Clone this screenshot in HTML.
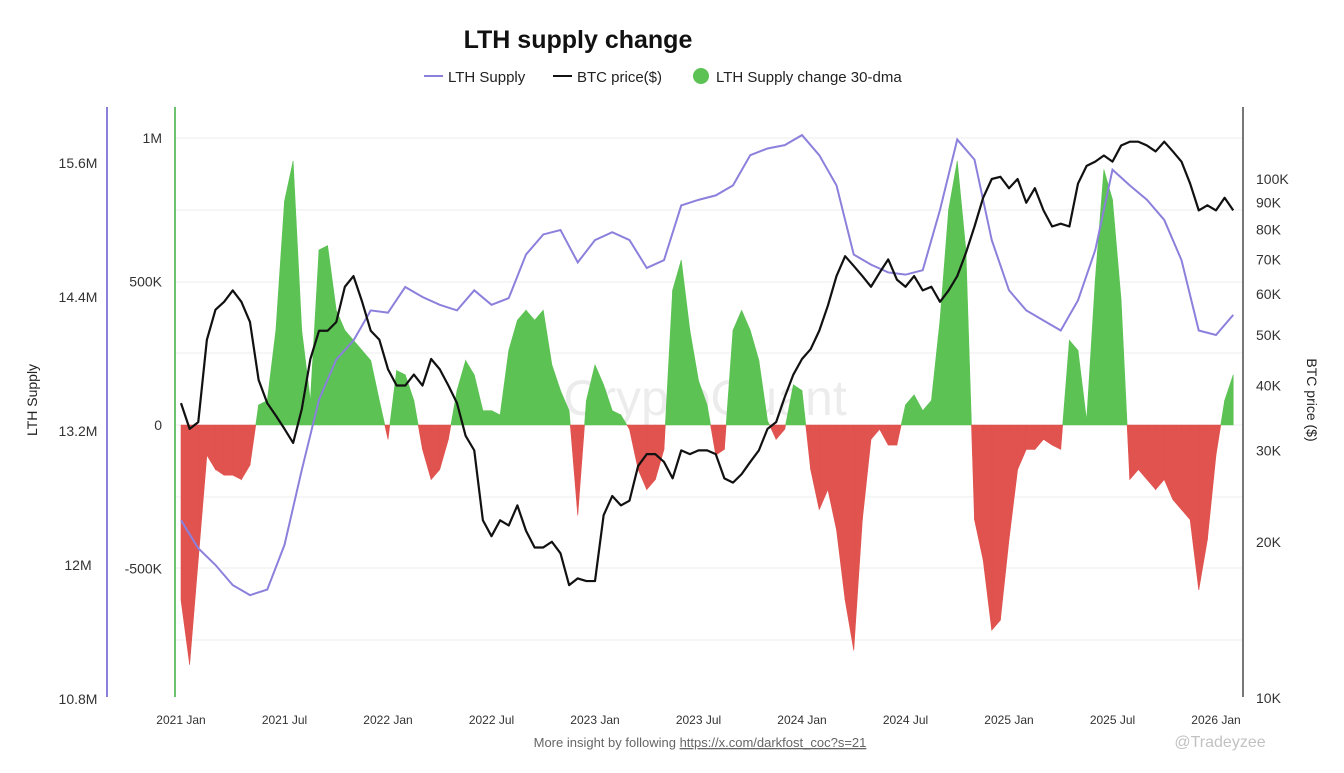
<!DOCTYPE html>
<html><head><meta charset="utf-8"><title>LTH supply change</title>
<style>
html,body{margin:0;padding:0;background:#fff;}
body{width:1344px;height:768px;overflow:hidden;font-family:"Liberation Sans",sans-serif;}
svg text{font-family:"Liberation Sans",sans-serif;}
</style></head>
<body>
<svg id="chart" width="1344" height="768" viewBox="0 0 1344 768" xmlns="http://www.w3.org/2000/svg">
  <rect width="1344" height="768" fill="#fff"/>
  <text x="578" y="48" text-anchor="middle" font-size="25" font-weight="bold" fill="#111">LTH supply change</text>
  <g font-size="15" fill="#222">
    <g><line x1="424" y1="76" x2="443" y2="76" stroke="#8b80dc" stroke-width="2"/><text x="448" y="82">LTH Supply</text></g>
    <g><line x1="553" y1="76" x2="572" y2="76" stroke="#111" stroke-width="2"/><text x="577" y="82">BTC price($)</text></g>
    <g><circle cx="701" cy="76" r="8" fill="#5cc254"/><text x="716" y="82">LTH Supply change 30-dma</text></g>
  </g>
  <g id="grid"></g>
  <text x="705" y="415" text-anchor="middle" font-size="50" fill="#000" opacity="0.07">CryptoQuant</text>
  <defs><clipPath id="plotclip"><rect x="176" y="100" width="1066" height="598"/></clipPath></defs>
  <g id="bars" clip-path="url(#plotclip)"></g>
  <g id="lines" clip-path="url(#plotclip)"></g>
  <line x1="107" y1="107" x2="107" y2="697" stroke="#8b80dc" stroke-width="2"/>
  <line x1="175" y1="107" x2="175" y2="697" stroke="#6ec46e" stroke-width="2"/>
  <line x1="1243" y1="107" x2="1243" y2="697" stroke="#777" stroke-width="2"/>
  <g id="axes" font-size="14" fill="#333"></g>
  <text transform="translate(37,400) rotate(-90)" text-anchor="middle" font-size="14" fill="#222">LTH Supply</text>
  <text transform="translate(1307,400) rotate(90)" text-anchor="middle" font-size="14" fill="#222">BTC price ($)</text>
  <text x="700" y="747" text-anchor="middle" font-size="13" fill="#666">More insight by following <tspan text-decoration="underline">https://x.com/darkfost_coc?s=21</tspan></text>
  <text x="1220" y="747" text-anchor="middle" font-size="16" fill="#999" opacity="0.6">@Tradeyzee</text>
</svg>
<script>
// Supply change 30-dma (K), semi-monthly from 2021 Jan
const changeValues = [-610,-835,-470,-105,-155,-175,-175,-190,-140,70,85,330,780,920,330,85,610,625,400,330,295,260,225,85,-50,190,175,85,-85,-190,-155,-50,120,225,175,50,50,35,260,365,400,365,400,210,120,50,-315,85,210,140,50,35,-15,-155,-225,-190,-85,470,575,330,155,70,-105,-85,330,400,330,225,15,-50,-15,140,120,-155,-295,-225,-365,-610,-785,-330,-50,-15,-70,-70,70,105,50,85,365,750,920,610,-330,-470,-715,-680,-400,-155,-85,-85,-50,-70,-85,295,260,15,505,890,785,435,-190,-155,-190,-225,-190,-260,-295,-330,-575,-400,-105,85,175];
// BTC price (K $), semi-monthly
const priceValues = [37,33,34,49,56,58,61,58,53,41,37,35,33,31,36,45,51,51,53,62,65,58,51,49,43,40,40,42,40,45,43,40,37,32,30,22,20.5,22,21.5,23.5,21,19.5,19.5,20,19,16.5,17,16.8,16.8,22.5,24.5,23.5,24,28,29.5,29.5,28.5,26.5,30,29.5,30,30,29.5,26.5,26,27,28.5,30,33,34,38,42,45,47,51,57,65,71,68,65,62,66,70,64,62,65,61,62,58,61,65,72,81,92,100,101,96,100,90,96,87,81,82,81,98,106,108,111,108,116,118,118,116,113,118,113,108,98,87,89,87,92,87];
// LTH supply (M BTC), monthly
const supplyValues = [12.40,12.15,12.00,11.82,11.73,11.78,12.18,12.85,13.48,13.84,14.01,14.28,14.26,14.49,14.40,14.33,14.28,14.46,14.33,14.39,14.78,14.96,15.00,14.71,14.91,14.98,14.91,14.66,14.73,15.22,15.27,15.31,15.40,15.67,15.73,15.76,15.85,15.67,15.40,14.78,14.69,14.62,14.60,14.64,15.18,15.81,15.63,14.91,14.46,14.28,14.19,14.10,14.37,14.82,15.54,15.40,15.27,15.09,14.73,14.10,14.06,14.24];
const xTickLabels = ["2021 Jan","2021 Jul","2022 Jan","2022 Jul","2023 Jan","2023 Jul","2024 Jan","2024 Jul","2025 Jan","2025 Jul","2026 Jan"];
const supplyTicks = [15.6,14.4,13.2,12,10.8];
const supplyTickLabels = ["15.6M","14.4M","13.2M","12M","10.8M"];
const changeTicks = [1000,500,0,-500];
const changeTickLabels = ["1M","500K","0","-500K"];
const priceTicks = [100,90,80,70,60,50,40,30,20,10];
const priceTickLabels = ["100K","90K","80K","70K","60K","50K","40K","30K","20K","10K"];

const NS="http://www.w3.org/2000/svg";
const X0=181, PX_PER_MONTH=17.25;
const xMonth = m => X0 + m*PX_PER_MONTH;
const ySupply = v => 431 - (v-13.2)/1.2*134;
const yChange = v => 425 - v/500*143.5;
const yPrice = v => 698 - Math.log10(v/10)*519;
function mk(tag, attrs, parent){const e=document.createElementNS(NS,tag);for(const k in attrs)e.setAttribute(k,attrs[k]);parent.appendChild(e);return e;}

const grid=document.getElementById('grid');
[138,210,282,353,425,497,568,640].forEach(y=>{
  const l=mk('line',{x1:176,x2:1242,y1:y,y2:y,stroke:'#eeeeee','stroke-width':1},grid);
});

// change area
const bars=document.getElementById('bars');
for(let i=0;i<changeValues.length-1;i++){
  const a=changeValues[i], b=changeValues[i+1];
  const xa=xMonth(i/2), xb=xMonth((i+1)/2);
  const segs=[];
  if((a>=0)===(b>=0)) segs.push([xa,a,xb,b]);
  else { const t=a/(a-b); const xc=xa+(xb-xa)*t; segs.push([xa,a,xc,0]); segs.push([xc,0,xb,b]); }
  segs.forEach(s=>{
    const pos=(s[1]+s[3])>=0;
    const p=mk('polygon',{points:`${s[0]},425 ${s[0]},${yChange(s[1])} ${s[2]},${yChange(s[3])} ${s[2]},425`,fill:pos?'#5cc254':'#e0534f','stroke':pos?'#5cc254':'#e0534f','stroke-width':0.6},bars);
    
    
  });
}

const lines=document.getElementById('lines');
const supplyPath=mk('path',{d:supplyValues.map((v,i)=>(i?'L':'M')+xMonth(i)+','+ySupply(v)).join(' '),fill:'none',stroke:'#8b80dc','stroke-width':2},lines);


const pricePath=mk('path',{d:priceValues.map((v,i)=>(i?'L':'M')+xMonth(i/2)+','+yPrice(v)).join(' '),fill:'none',stroke:'#111','stroke-width':2.2,'stroke-linejoin':'round'},lines);



const axes=document.getElementById('axes');
xTickLabels.forEach((t,i)=>{
  const e=mk('text',{x:xMonth(i*6),y:724,'text-anchor':'middle','font-size':12},axes); e.textContent=t;
  
  
});
supplyTicks.forEach((v,i)=>{
  const e=mk('text',{x:78,y:ySupply(v)+5,'text-anchor':'middle'},axes); e.textContent=supplyTickLabels[i];
  
  
});
changeTicks.forEach((v,i)=>{
  const e=mk('text',{x:162,y:yChange(v)+5,'text-anchor':'end'},axes); e.textContent=changeTickLabels[i];
  
  
});
priceTicks.forEach((v,i)=>{
  const e=mk('text',{x:1256,y:yPrice(v)+5,'text-anchor':'start'},axes); e.textContent=priceTickLabels[i];
  
  
});
</script>
</body></html>
